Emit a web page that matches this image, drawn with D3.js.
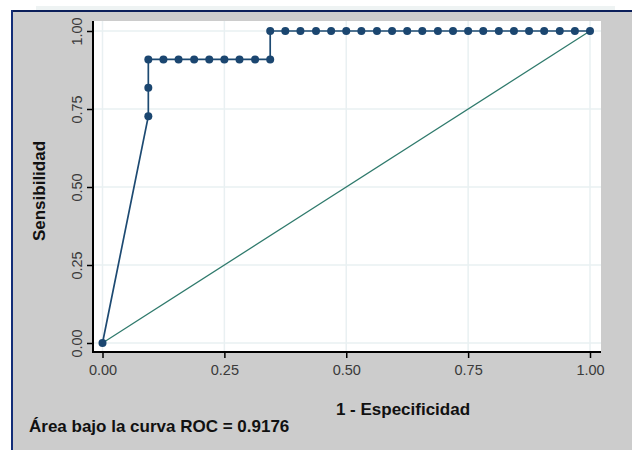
<!DOCTYPE html>
<html>
<head>
<meta charset="utf-8">
<script src="https://cdn.jsdelivr.net/npm/d3@7"></script>
<style>
  html, body { margin: 0; padding: 0; background: #fff; }
  svg { display: block; font-family: "Liberation Sans", Arial, sans-serif; }
</style>
</head>
<body>
<svg id="chart"></svg>
<script>
// ROC curve points (1 - specificity, sensitivity)
const fpr = [0.000, 0.094, 0.094, 0.094, 0.125, 0.156, 0.188, 0.219, 0.250, 0.281, 0.313, 0.344,
             0.344, 0.375, 0.406, 0.438, 0.469, 0.500, 0.531, 0.563, 0.594, 0.625, 0.656, 0.688,
             0.719, 0.750, 0.781, 0.813, 0.844, 0.875, 0.906, 0.938, 0.969, 1.000];
const tpr = [0.000, 0.727, 0.818, 0.909, 0.909, 0.909, 0.909, 0.909, 0.909, 0.909, 0.909, 0.909,
             1.000, 1.000, 1.000, 1.000, 1.000, 1.000, 1.000, 1.000, 1.000, 1.000, 1.000, 1.000,
             1.000, 1.000, 1.000, 1.000, 1.000, 1.000, 1.000, 1.000, 1.000, 1.000];
const refLine = [0, 1];
const tickValues = [0, 0.25, 0.5, 0.75, 1];
const xTitle = "1 - Especificidad";
const yTitle = "Sensibilidad";
const note = "Área bajo la curva ROC = 0.9176";

const width = 632, height = 450;
const svg = d3.select("#chart").attr("width", width).attr("height", height);

// plot region box
const box = { left: 93, right: 601, top: 21, bottom: 352 };

const x = d3.scaleLinear().domain([0, 1]).range([102.5, 590]);
const y = d3.scaleLinear().domain([0, 1]).range([343, 31]);

// background frame
svg.append("rect").attr("x", 36).attr("y", 6).attr("width", 579).attr("height", 4).attr("fill", "#eef3f3");
svg.append("rect").attr("x", 12).attr("y", 11).attr("width", width - 12).attr("height", height - 11).attr("fill", "#cccccc");
svg.append("rect").attr("x", 11).attr("y", 10).attr("width", width - 11).attr("height", 2).attr("fill", "#0b1f5a");
svg.append("rect").attr("x", 11).attr("y", 10).attr("width", 2).attr("height", height - 10).attr("fill", "#132d78");

// plot area
svg.append("rect")
    .attr("x", box.left).attr("y", box.top)
    .attr("width", box.right - box.left).attr("height", box.bottom - box.top)
    .attr("fill", "#fff");

// grid
const grid = svg.append("g").attr("stroke", "#e9f0f2").attr("stroke-width", 1.5);
grid.selectAll(".gx").data(tickValues).enter().append("line")
    .attr("x1", d => x(d)).attr("x2", d => x(d))
    .attr("y1", box.top).attr("y2", box.bottom);
grid.selectAll(".gy").data(tickValues).enter().append("line")
    .attr("x1", box.left).attr("x2", box.right)
    .attr("y1", d => y(d)).attr("y2", d => y(d));

// axes
const xAxis = svg.append("g")
    .attr("transform", `translate(0,${box.bottom})`)
    .call(d3.axisBottom(x).tickValues(tickValues).tickFormat(d3.format(".2f")).tickSize(6).tickPadding(7));
const yAxis = svg.append("g")
    .attr("transform", `translate(${box.left},0)`)
    .call(d3.axisLeft(y).tickValues(tickValues).tickFormat(d3.format(".2f")).tickSize(6).tickPadding(11));

[xAxis, yAxis].forEach(g => {
  g.select(".domain").remove();
  g.selectAll(".tick line").attr("stroke", "#000").attr("stroke-width", 1.5);
  g.selectAll(".tick text")
      .attr("fill", "#3a3a3a")
      .style("font-size", "14.5px")
      .style("font-family", "'Liberation Sans', Arial, sans-serif");
});
yAxis.selectAll(".tick text")
    .attr("transform", "rotate(-90)")
    .attr("x", 0).attr("y", -11)
    .attr("dy", "0")
    .attr("text-anchor", "middle");

svg.append("line").attr("x1", box.left).attr("x2", box.left)
    .attr("y1", box.top).attr("y2", box.bottom + 1)
    .attr("stroke", "#000").attr("stroke-width", 2);
svg.append("line").attr("x1", box.left).attr("x2", box.right)
    .attr("y1", box.bottom).attr("y2", box.bottom)
    .attr("stroke", "#000").attr("stroke-width", 2);

// reference diagonal
svg.append("line")
    .attr("x1", x(refLine[0])).attr("y1", y(refLine[0]))
    .attr("x2", x(refLine[1])).attr("y2", y(refLine[1]))
    .attr("stroke", "#2f7a6c").attr("stroke-width", 1.3);

// ROC curve
const pts = fpr.map((d, i) => [d, tpr[i]]);
svg.append("path")
    .datum(pts)
    .attr("fill", "none")
    .attr("stroke", "#1d4a72")
    .attr("stroke-width", 1.7)
    .attr("d", d3.line().x(d => x(d[0])).y(d => y(d[1])));

svg.append("g").selectAll("circle").data(pts).enter().append("circle")
    .attr("cx", d => x(d[0])).attr("cy", d => y(d[1]))
    .attr("r", 4)
    .attr("fill", "#1b4670");

// titles
svg.append("text")
    .attr("x", 403).attr("y", 415)
    .attr("text-anchor", "middle")
    .style("font-size", "17px").style("font-weight", "bold")
    .attr("fill", "#111")
    .text(xTitle);

svg.append("text")
    .attr("transform", "translate(45,191) rotate(-90)")
    .attr("text-anchor", "middle")
    .style("font-size", "17px").style("font-weight", "bold")
    .attr("fill", "#111")
    .text(yTitle);

svg.append("text")
    .attr("x", 29).attr("y", 432)
    .style("font-size", "17px").style("font-weight", "bold")
    .attr("fill", "#111")
    .text(note);
</script>
</body>
</html>
